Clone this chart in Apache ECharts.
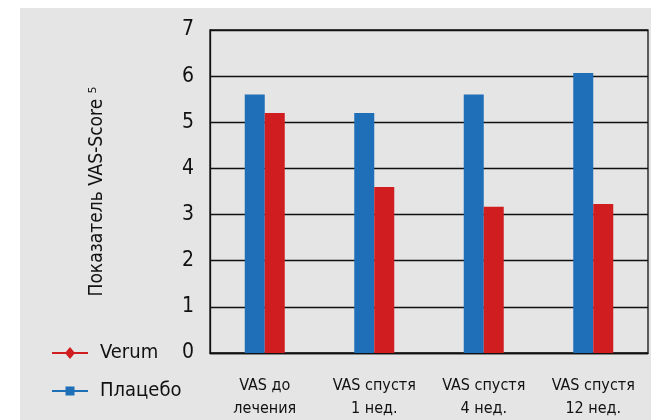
<!DOCTYPE html>
<html><head><meta charset="utf-8">
<script src="https://cdn.jsdelivr.net/npm/echarts@6/dist/echarts.min.js"></script>
<style>html,body{margin:0;padding:0;background:#fff}#c{width:651px;height:420px}</style>
</head><body><div id="c"></div>
<script>
const categories = ['VAS до\nлечения', 'VAS спустя\n1 нед.', 'VAS спустя\n4 нед.', 'VAS спустя\n12 нед.'];
const placeboValues = [5.6, 5.2, 5.6, 6.07];
const verumValues = [5.2, 3.6, 3.17, 3.23];
const yTicks = [0, 1, 2, 3, 4, 5, 6, 7];
const yAxisTitle = 'Показатель VAS-Score ⁵';

const FONT = "'Liberation Sans Narrow', 'DejaVu Sans Condensed', 'Roboto', sans-serif";
const BLUE = '#1f6fb8', RED = '#d01d20';
const chart = echarts.init(document.getElementById('c'), null, {renderer: 'canvas'});
chart.setOption({
  backgroundColor: '#fff',
  animation: false,
  textStyle: {fontFamily: FONT, color: '#111'},
  graphic: [{type: 'rect', left: 20, top: 8, shape: {width: 631, height: 412}, style: {fill: '#e5e5e5'}, z: -100}],
  grid: {left: 210, right: 3, top: 30, bottom: 67, show: true, borderColor: '#111', borderWidth: 1.3, backgroundColor: 'transparent'},
  legend: {
    orient: 'vertical', left: 52, top: 343, padding: 0, itemGap: 18, itemWidth: 36, itemHeight: 12,
    textStyle: {fontFamily: FONT, fontSize: 20, color: '#111', padding: [0, 0, 0, 7]},
    data: [
      {name: 'Verum', icon: 'path://M0,5L36,5L36,7L0,7ZM18,0L23,6L18,12L13,6Z', itemStyle: {color: RED}},
      {name: 'Плацебо', icon: 'path://M0,5L36,5L36,7L0,7ZM13.5,1.5L22.5,1.5L22.5,10.5L13.5,10.5Z', itemStyle: {color: BLUE}}
    ]
  },
  xAxis: {
    type: 'category', data: categories,
    axisLine: {lineStyle: {color: '#111', width: 1.3}}, axisTick: {show: false},
    axisLabel: {fontFamily: FONT, fontSize: 16, color: '#111', lineHeight: 23, margin: 21, interval: 0}
  },
  yAxis: {
    type: 'value', min: yTicks[0], max: yTicks[yTicks.length - 1], interval: 1,
    name: yAxisTitle, nameLocation: 'middle', nameRotate: 90, nameGap: 103,
    nameTextStyle: {fontFamily: FONT, fontSize: 19, color: '#111'},
    axisLine: {show: true, lineStyle: {color: '#111', width: 1.3}}, axisTick: {show: false},
    axisLabel: {fontFamily: FONT, fontSize: 21, color: '#111', margin: 16},
    splitLine: {lineStyle: {color: '#111', width: 1.3}}
  },
  series: [
    {name: 'Плацебо', type: 'bar', data: placeboValues, barWidth: 20, barGap: '0%', itemStyle: {color: BLUE}},
    {name: 'Verum', type: 'bar', data: verumValues, barWidth: 20, barGap: '0%', itemStyle: {color: RED}}
  ]
});
</script></body></html>
